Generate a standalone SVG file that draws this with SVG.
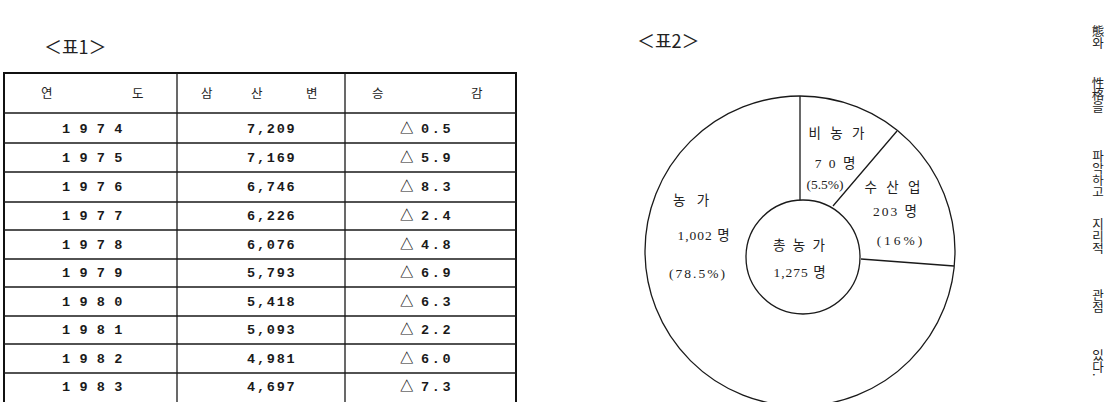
<svg xmlns="http://www.w3.org/2000/svg" width="1108" height="402" viewBox="0 0 1108 402">
<style>
.bg{fill:#ffffff}
.ln{stroke:#1a1a1a;stroke-width:1.3;fill:none}
.bd{stroke:#111;stroke-width:2;fill:none}
.ttl{font-family:"Noto Sans CJK KR","Liberation Sans",sans-serif;font-size:18px;fill:#222}
.kr{font-family:"Liberation Serif","Noto Sans CJK KR",serif;font-size:13.5px;fill:#222}
.hd{font-family:"Liberation Serif","Noto Sans CJK KR",serif;font-size:12.5px;fill:#222}
.num{font-family:"Liberation Mono","Noto Sans CJK KR",monospace;font-size:13.5px;fill:#1a1a1a;font-weight:bold}
.vt{font-family:"Noto Sans CJK KR","Liberation Sans",sans-serif;font-size:12.5px;fill:#222;writing-mode:vertical-rl;letter-spacing:-0.5px}
</style>
<rect class="bg" x="0" y="0" width="1108" height="402"/>

<g id="title1"><text class="ttl" x="44" y="54">＜표1＞</text></g>
<g id="title2"><text class="ttl" x="637" y="48">＜표2＞</text></g>

<g id="table1">
  <path class="bd" d="M4,404 V73 H516 V404"/>
  <path class="ln" d="M177,73 V404 M345,73 V404"/>
  <path class="ln" d="M4,113 H516 M4,143 H516 M4,172 H516 M4,202 H516 M4,230 H516 M4,259 H516 M4,287 H516 M4,316 H516 M4,344 H516 M4,373 H516"/>
  <g class="hd">
    <text x="41" y="98">연</text><text x="132" y="98">도</text>
    <text x="201" y="98">삼</text><text x="251" y="98">산</text><text x="306" y="98">변</text>
    <text x="372" y="98">승</text><text x="471" y="98">감</text>
  </g>
  <g class="num" letter-spacing="0.6">
    <text x="62" y="133">1 9 7 4</text>
    <text x="62" y="162">1 9 7 5</text>
    <text x="62" y="191">1 9 7 6</text>
    <text x="62" y="220">1 9 7 7</text>
    <text x="62" y="249">1 9 7 8</text>
    <text x="62" y="277">1 9 7 9</text>
    <text x="62" y="306">1 9 8 0</text>
    <text x="62" y="334">1 9 8 1</text>
    <text x="62" y="363">1 9 8 2</text>
    <text x="62" y="391">1 9 8 3</text>
  </g>
  <g class="num" letter-spacing="1.8">
    <text x="247" y="133">7,209</text>
    <text x="247" y="162">7,169</text>
    <text x="247" y="191">6,746</text>
    <text x="247" y="220">6,226</text>
    <text x="247" y="249">6,076</text>
    <text x="247" y="277">5,793</text>
    <text x="247" y="306">5,418</text>
    <text x="247" y="334">5,093</text>
    <text x="247" y="363">4,981</text>
    <text x="247" y="391">4,697</text>
  </g>
  <g class="num">
    <text x="400" y="133">△<tspan x="421" letter-spacing="2.6">0.5</tspan></text>
    <text x="400" y="162">△<tspan x="421" letter-spacing="2.6">5.9</tspan></text>
    <text x="400" y="191">△<tspan x="421" letter-spacing="2.6">8.3</tspan></text>
    <text x="400" y="220">△<tspan x="421" letter-spacing="2.6">2.4</tspan></text>
    <text x="400" y="249">△<tspan x="421" letter-spacing="2.6">4.8</tspan></text>
    <text x="400" y="277">△<tspan x="421" letter-spacing="2.6">6.9</tspan></text>
    <text x="400" y="306">△<tspan x="421" letter-spacing="2.6">6.3</tspan></text>
    <text x="400" y="334">△<tspan x="421" letter-spacing="2.6">2.2</tspan></text>
    <text x="400" y="363">△<tspan x="421" letter-spacing="2.6">6.0</tspan></text>
    <text x="400" y="391">△<tspan x="421" letter-spacing="2.6">7.3</tspan></text>
  </g>
</g>

<g id="pie">
  <circle class="ln" cx="800" cy="251" r="155"/>
  <circle class="ln" cx="803" cy="257" r="57"/>
  <path class="ln" d="M800,96 V200 M833,206 L897,131 M861,259 L954,266"/>
</g>

<g id="label-binongga" class="kr" text-anchor="middle">
  <text x="838" y="138" letter-spacing="3">비 농 가</text>
  <text x="836" y="168" letter-spacing="2">7 0 명</text>
  <text x="825" y="189">(5.5%)</text>
</g>
<g id="label-susanup" class="kr" text-anchor="middle">
  <text x="894" y="192" letter-spacing="3">수 산 업</text>
  <text x="896" y="216" letter-spacing="2">203 명</text>
  <text x="901" y="245" letter-spacing="3">(16%)</text>
</g>
<g id="label-nongga" class="kr" text-anchor="middle">
  <text x="693" y="205" letter-spacing="4">농 가</text>
  <text x="704" y="240" letter-spacing="1">1,002 명</text>
  <text x="698" y="278" letter-spacing="2">(78.5%)</text>
</g>
<g id="label-total" class="kr" text-anchor="middle">
  <text x="800" y="250" letter-spacing="2">총 농 가</text>
  <text x="800" y="277" letter-spacing="1">1,275 명</text>
</g>

<g id="side-text" class="vt">
  <text x="1098" y="25">態와</text>
  <text x="1098" y="77">性格을</text>
  <text x="1098" y="150">파악하고</text>
  <text x="1098" y="218">지리적</text>
  <text x="1098" y="289">관점</text>
  <text x="1098" y="349">있다.</text>
</g>
</svg>
